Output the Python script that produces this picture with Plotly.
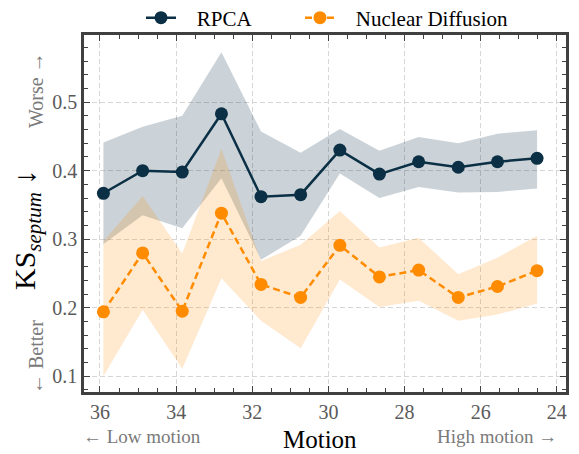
import plotly.graph_objects as go

# ---- data ----
motion = [35.91, 34.88, 33.84, 32.81, 31.77, 30.73, 29.70, 28.66, 27.63, 26.59, 25.56, 24.52]
rpca_mean = [0.367, 0.400, 0.398, 0.483, 0.362, 0.365, 0.430, 0.395, 0.413, 0.405, 0.413, 0.418]
rpca_upper = [0.441, 0.464, 0.480, 0.573, 0.457, 0.426, 0.461, 0.429, 0.449, 0.440, 0.454, 0.459]
rpca_lower = [0.293, 0.335, 0.316, 0.389, 0.270, 0.305, 0.396, 0.360, 0.376, 0.368, 0.369, 0.374]
nd_mean = [0.194, 0.280, 0.195, 0.338, 0.234, 0.215, 0.291, 0.245, 0.255, 0.215, 0.231, 0.254]
nd_upper = [0.297, 0.363, 0.279, 0.432, 0.268, 0.292, 0.341, 0.288, 0.302, 0.249, 0.273, 0.305]
nd_lower = [0.100, 0.197, 0.111, 0.243, 0.181, 0.141, 0.241, 0.201, 0.210, 0.181, 0.190, 0.206]
x_ticks = [36, 34, 32, 30, 28, 26, 24]
y_ticks = [0.1, 0.2, 0.3, 0.4, 0.5]
series_names = ["RPCA", "Nuclear Diffusion"]

NAVY = "#0b2f45"
ORANGE = "#ff8c00"
SERIF = "Liberation Serif"
NB = "\u00a0"

fig = go.Figure()

# RPCA band
fig.add_trace(go.Scatter(x=motion, y=rpca_upper, mode="lines", line=dict(width=0),
                         showlegend=False, hoverinfo="skip"))
fig.add_trace(go.Scatter(x=motion, y=rpca_lower, mode="lines", line=dict(width=0),
                         fill="tonexty", fillcolor="rgba(11,47,69,0.21)",
                         showlegend=False, hoverinfo="skip"))
# ND band
fig.add_trace(go.Scatter(x=motion, y=nd_upper, mode="lines", line=dict(width=0),
                         showlegend=False, hoverinfo="skip"))
fig.add_trace(go.Scatter(x=motion, y=nd_lower, mode="lines", line=dict(width=0),
                         fill="tonexty", fillcolor="rgba(255,140,0,0.19)",
                         showlegend=False, hoverinfo="skip"))

fig.add_trace(go.Scatter(x=motion, y=rpca_mean, mode="lines+markers",
                         name=NB * 3 + series_names[0], legend="legend",
                         line=dict(color=NAVY, width=2.5),
                         marker=dict(color=NAVY, size=13)))
fig.add_trace(go.Scatter(x=motion, y=nd_mean, mode="lines+markers",
                         name=NB * 3 + series_names[1], legend="legend2",
                         line=dict(color=ORANGE, width=2.5, dash="7px,4px"),
                         marker=dict(color=ORANGE, size=13)))

FRAME = "#404040"
axis_common = dict(
    showline=True, linecolor=FRAME, linewidth=2.5, mirror="allticks",
    ticks="inside", ticklen=6, tickwidth=1.3, tickcolor=FRAME,
    showgrid=True, gridcolor="#d6d6d6", gridwidth=1, griddash="5px,3px",
    zeroline=False,
    tickfont=dict(family=SERIF, size=20, color="#5a5a5a"),
)

fig.update_xaxes(**axis_common, range=[36.42, 23.76], tickvals=x_ticks,
                 ticktext=[str(v) for v in x_ticks],
                 minor=dict(dtick=0.5, tick0=24, ticks="inside", ticklen=4,
                            tickwidth=1.1, tickcolor=FRAME, showgrid=False))
fig.update_yaxes(**axis_common, range=[0.077, 0.598], tickvals=y_ticks,
                 ticktext=[f"{v:.1f}" for v in y_ticks],
                 minor=dict(dtick=0.02, tick0=0, ticks="inside", ticklen=4,
                            tickwidth=1.1, tickcolor=FRAME, showgrid=False))

# page has an 8px body margin: draw a slightly smaller figure, shifted coords
OFF = 8
W, H = 579 - OFF, 454 - OFF
L, R, T, B = 84 - OFF, 13, 35 - OFF, 62
pw, ph = W - L - R, H - T - B

def px(x):
    return (x - OFF - L) / pw

def py(y):
    return (H - B - (y - OFF)) / ph

annotations = [
    dict(text="KS<sub><i>septum</i></sub> ↓", x=px(27), y=py(230), textangle=-90,
         font=dict(family=SERIF, size=30, color="black")),
    dict(text="Worse →", x=px(36), y=py(90), textangle=-90,
         font=dict(family=SERIF, size=20, color="#7a7a7a")),
    dict(text="← Better", x=px(36), y=py(357), textangle=-90,
         font=dict(family=SERIF, size=20, color="#7a7a7a")),
    dict(text="Motion", x=px(320), y=py(439),
         font=dict(family=SERIF, size=25, color="black")),
    dict(text="← Low motion", x=px(142), y=py(436),
         font=dict(family=SERIF, size=19, color="#7a7a7a")),
    dict(text="High motion →", x=px(497), y=py(436),
         font=dict(family=SERIF, size=19, color="#7a7a7a")),
]
for a in annotations:
    a.update(xref="paper", yref="paper", showarrow=False,
             xanchor="center", yanchor="middle")

legend_common = dict(orientation="h", xanchor="left", yanchor="middle", y=py(18),
                     font=dict(family=SERIF, size=21, color="black"),
                     bgcolor="rgba(0,0,0,0)")

fig.update_layout(
    width=W, height=H,
    margin=dict(l=L, r=R, t=T, b=B, autoexpand=False),
    plot_bgcolor="white", paper_bgcolor="white",
    font=dict(family=SERIF),
    annotations=annotations,
    legend=dict(**legend_common, x=px(141)),
    legend2=dict(**legend_common, x=px(300)),
)

fig.write_html("out.html")
